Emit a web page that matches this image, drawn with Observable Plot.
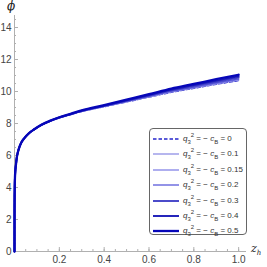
<!DOCTYPE html>
<html><head><meta charset="utf-8">
<script src="https://cdn.jsdelivr.net/npm/d3@7"></script>
<script src="https://cdn.jsdelivr.net/npm/@observablehq/plot@0.6"></script>
<style>
body{margin:0;background:#fff;}
#wrap{position:relative;width:267px;height:267px;font-family:"Liberation Sans",Arial,sans-serif;}
.lab{position:absolute;font-family:"DejaVu Serif","Liberation Serif",serif;font-style:italic;color:#222;}
#legend{position:absolute;left:149px;top:128px;width:98px;height:107px;border:1px solid #666;border-radius:4px;background:#fff;box-sizing:border-box;}
.row{position:absolute;left:0;height:13px;width:100%;font-size:8px;color:#333;}
.sample{position:absolute;left:3px;top:3px;}
.txt{position:absolute;left:33px;top:1px;white-space:nowrap;line-height:12px;}
.txt sub,.txt sup{font-size:6px;line-height:0;}
</style></head><body>
<div id="wrap"></div>
<script>
const z = [0,0.0002,0.0005,0.001,0.002,0.004,0.007,0.01,0.015,0.02,0.03,0.045,0.065,0.09,0.12,0.16,0.2,0.25,0.3,0.4,0.5,0.6,0.7,0.8,0.9,1.0];
const phi_0   = [0,2.6,3.4,4.0,4.6,5.1,5.5,5.85,6.2,6.45,6.8,7.1,7.4,7.65,7.9,8.15,8.35,8.55,8.75,9.05,9.35,9.65,9.95,10.2,10.45,10.68];
const phi_010 = [0,2.6,3.4,4.0,4.6,5.1,5.5,5.85,6.2,6.45,6.8,7.1,7.4,7.65,7.9,8.15,8.35,8.56,8.76,9.06,9.37,9.67,9.98,10.23,10.49,10.72];
const phi_015 = [0,2.6,3.4,4.0,4.6,5.1,5.5,5.85,6.2,6.45,6.8,7.1,7.4,7.65,7.9,8.16,8.36,8.56,8.76,9.07,9.38,9.69,10.0,10.25,10.51,10.75];
const phi_020 = [0,2.6,3.4,4.0,4.6,5.1,5.5,5.85,6.2,6.45,6.8,7.1,7.4,7.65,7.9,8.16,8.36,8.57,8.77,9.08,9.39,9.70,10.02,10.28,10.55,10.79];
const phi_030 = [0,2.6,3.4,4.0,4.6,5.1,5.5,5.85,6.2,6.45,6.8,7.1,7.4,7.65,7.91,8.17,8.37,8.58,8.79,9.10,9.42,9.74,10.07,10.34,10.61,10.87];
const phi_040 = [0,2.6,3.4,4.0,4.6,5.1,5.5,5.85,6.2,6.45,6.8,7.1,7.4,7.65,7.91,8.17,8.38,8.59,8.80,9.12,9.45,9.78,10.12,10.40,10.68,10.95];
const phi_050 = [0,2.6,3.4,4.0,4.6,5.1,5.5,5.85,6.2,6.45,6.8,7.1,7.4,7.66,7.92,8.18,8.39,8.60,8.82,9.15,9.49,9.83,10.18,10.47,10.77,11.05];
const qLabels = ["0","0.1","0.15","0.2","0.3","0.4","0.5"];
const seriesValues = [phi_0,phi_010,phi_015,phi_020,phi_030,phi_040,phi_050];
const colors = ["#2424cc","#a4a4ea","#6c6ce2","#5858da","#4242c8","#1a1ab8","#0606b8"];
const widths = [1.4,1.6,1.1,1.3,1.9,1.9,2.3];
const dashes = ["3.5,2",null,null,null,null,null,null];
const xMajor = [0.2,0.4,0.6,0.8,1.0];
const xMinor = d3.range(0.05,1.001,0.05);
const yMajor = [0,2,4,6,8,10,12,14];
const yMinor = d3.range(0.5,14.6,0.5);

const marks = [
  Plot.ruleY([0],{stroke:"#b0b0b0"}),
  Plot.ruleX([0],{stroke:"#b0b0b0"}),
  Plot.axisX(xMinor,{tickSize:-2,tickFormat:()=>"",stroke:"#b0b0b0",label:null}),
  Plot.axisX(xMajor,{tickSize:-4,tickFormat:()=>"",stroke:"#b0b0b0",label:null}),
  Plot.axisX(xMajor,{tickSize:0,tickPadding:4,tickFormat:d3.format(".1f"),fill:"#444",fontSize:10,label:null}),
  Plot.axisY(yMinor,{tickSize:-2,tickFormat:()=>"",stroke:"#b0b0b0",label:null}),
  Plot.axisY(yMajor,{tickSize:-4,tickFormat:()=>"",stroke:"#b0b0b0",label:null}),
  Plot.axisY(yMajor,{tickSize:0,tickPadding:3,fill:"#444",fontSize:10,label:null})
];
seriesValues.forEach((vals,i)=>{
  const data = z.map((zz,j)=>({z:zz,phi:vals[j]}));
  marks.push(Plot.line(data,{x:"z",y:"phi",stroke:colors[i],strokeWidth:widths[i],strokeDasharray:dashes[i],curve:"monotone-x"}));
});

const chart = Plot.plot({
  width:267,height:267,
  marginLeft:14,marginRight:21,marginTop:15,marginBottom:16,
  x:{domain:[0,1.035],axis:null,label:null},
  y:{domain:[0,14.75],axis:null,label:null},
  style:{fontFamily:"'Liberation Sans',Arial,sans-serif",fontSize:"10px",background:"#fff"},
  marks
});
const wrap = document.getElementById("wrap");
wrap.appendChild(chart);

const phiLab = document.createElement("div");
phiLab.className="lab"; phiLab.style.left="7px"; phiLab.style.top="-1px"; phiLab.style.fontSize="12px";
phiLab.textContent="ϕ"; wrap.appendChild(phiLab);
const zLab = document.createElement("div");
zLab.className="lab"; zLab.style.left="251px"; zLab.style.top="242px"; zLab.style.fontSize="11px";
zLab.innerHTML='z<sub style="font-size:7px">h</sub>'; wrap.appendChild(zLab);

const leg = document.createElement("div"); leg.id="legend"; wrap.appendChild(leg);
qLabels.forEach((q,i)=>{
  const row=document.createElement("div"); row.className="row"; row.style.top=(3+i*15.4)+"px";
  const s=document.createElementNS("http://www.w3.org/2000/svg","svg");
  s.setAttribute("class","sample"); s.setAttribute("width","26"); s.setAttribute("height","8");
  const ln=document.createElementNS("http://www.w3.org/2000/svg","line");
  ln.setAttribute("x1","0"); ln.setAttribute("x2","26"); ln.setAttribute("y1","4"); ln.setAttribute("y2","4");
  ln.setAttribute("stroke",colors[i]); ln.setAttribute("stroke-width",widths[i]);
  if(dashes[i]) ln.setAttribute("stroke-dasharray",dashes[i]);
  s.appendChild(ln);
  const t=document.createElement("div"); t.className="txt";
  t.innerHTML=`<i>q</i><sub>3</sub><sup>2</sup> = − <i>c</i><sub>B</sub> = ${q}`;
  row.appendChild(s); row.appendChild(t); leg.appendChild(row);
});
</script></body></html>
